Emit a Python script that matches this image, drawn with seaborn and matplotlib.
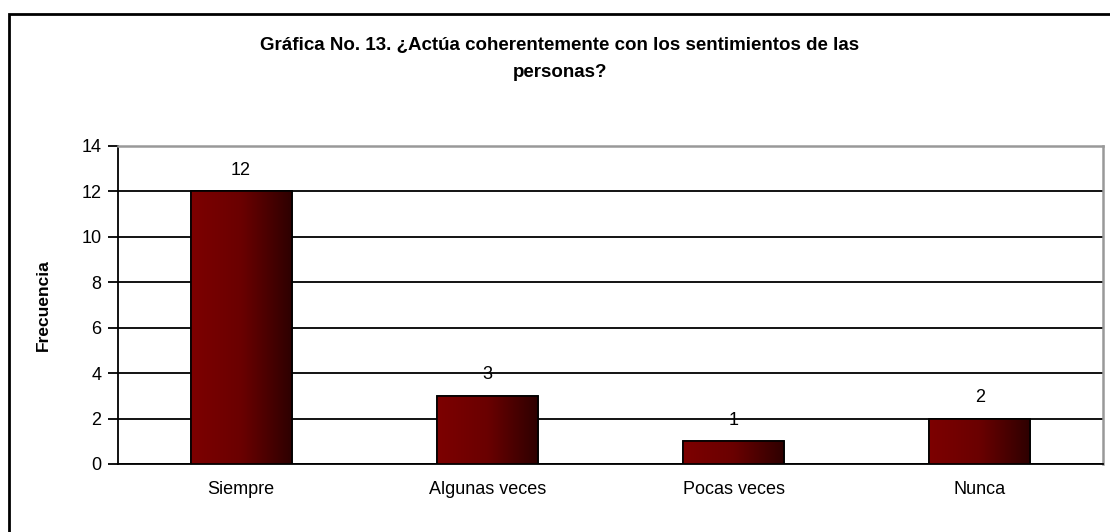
import numpy as np
import pandas as pd
import seaborn as sns
import matplotlib.pyplot as plt
from matplotlib.colors import LinearSegmentedColormap
from matplotlib.patches import Rectangle

categorias = ["Siempre", "Algunas veces", "Pocas veces", "Nunca"]
frecuencia = [12, 3, 1, 2]
titulo = "Gráfica No. 13. ¿Actúa coherentemente con los sentimientos de las\npersonas?"

sns.set_style("white")
plt.rcParams['font.family'] = ['Liberation Sans', 'DejaVu Sans']
plt.rcParams['text.color'] = "black"
plt.rcParams['axes.labelcolor'] = "black"
plt.rcParams['xtick.color'] = "black"
plt.rcParams['ytick.color'] = "black"

df = pd.DataFrame({"cat": categorias, "f": frecuencia})

fig = plt.figure(figsize=(11.1, 5.32), dpi=100)
ax = fig.add_axes([118 / 1110, 1 - 464 / 532, (1103 - 118) / 1110, (464 - 146) / 532])

sns.barplot(data=df, x="cat", y="f", ax=ax, width=0.41, color="#700000",
            edgecolor="black", linewidth=1.2, zorder=3)

# degradado dentro de cada barra
cmap = LinearSegmentedColormap.from_list("rojo", ["#7d0000", "#6a0000", "#2e0000"])
grad = np.linspace(0, 1, 256).reshape(1, -1)
for p in ax.patches:
    x0, y0 = p.get_x(), p.get_y()
    w, h = p.get_width(), p.get_height()
    im = ax.imshow(grad, cmap=cmap, aspect="auto", extent=(x0, x0 + w, y0, y0 + h),
                   zorder=3.5, interpolation="bilinear")
    im.set_clip_path(p)
    ax.add_patch(Rectangle((x0, y0), w, h, fill=False, edgecolor="black", linewidth=1.2, zorder=4))

ax.set_xlim(-0.5, len(categorias) - 0.5)
ax.set_ylim(0, 14)
ax.set_yticks(range(0, 15, 2))
ax.yaxis.grid(True, color="black", linewidth=1.3, zorder=0)
ax.set_axisbelow(True)

for i, v in enumerate(frecuencia):
    ax.text(i, v + 0.55, str(v), ha="center", va="bottom", fontsize=13, zorder=6)

ax.set_xlabel("")
ax.set_ylabel("Frecuencia", fontsize=12.5, fontweight="bold", labelpad=22)
ax.set_xticks(np.arange(len(categorias)))
ax.set_xticklabels(categorias, fontsize=13)
ax.set_xticks(np.arange(-0.5, len(categorias)), minor=True)
ax.tick_params(axis="x", which="major", length=0, pad=12)
ax.tick_params(axis="x", which="minor", length=7, width=1.3, color="black", direction="out")
ax.tick_params(axis="y", length=7, width=1.3, color="black", direction="out", labelsize=13,
               left=True, pad=5)

for s in ["left", "bottom"]:
    ax.spines[s].set_color("black")
    ax.spines[s].set_linewidth(1.3)
for s in ["top", "right"]:
    ax.spines[s].set_color("#999999")
    ax.spines[s].set_linewidth(1.8)
    ax.spines[s].set_visible(True)

fig.text(560 / 1110, 1 - 59 / 532, titulo, ha="center", va="center", fontsize=13.5,
         fontweight="bold", linespacing=1.7)

# borde exterior del grafico
fig.patches.append(Rectangle((9 / 1110, -0.01), 1.02, 1 - 14 / 532 + 0.01, transform=fig.transFigure,
                             fill=False, edgecolor="black", linewidth=2))

fig.savefig("out.png", dpi=100)
